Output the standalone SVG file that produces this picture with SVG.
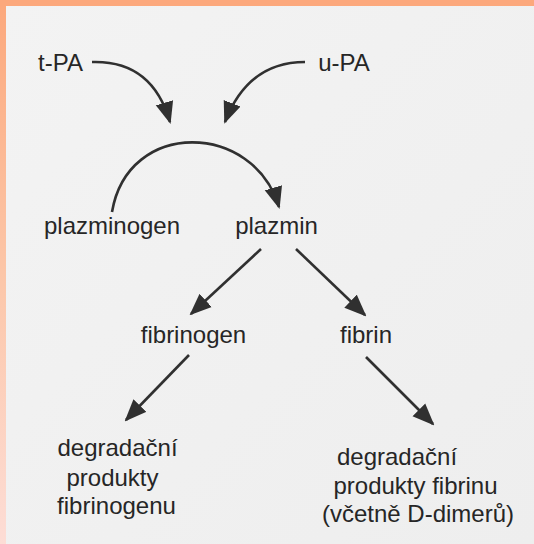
<svg xmlns="http://www.w3.org/2000/svg" width="534" height="544" viewBox="0 0 534 544">
  <style>
    .lbl { font-family: "Liberation Sans", Arial, sans-serif; font-size: 24px; fill: #262626; text-anchor: middle; }
    .edge { fill: none; stroke: #303030; stroke-width: 2.6; marker-end: url(#ah); }
  </style>
  <defs>
    <marker id="ah" markerUnits="userSpaceOnUse" markerWidth="22" markerHeight="19" refX="20" refY="9.5" orient="auto">
      <path d="M0,0.5 L22,9.5 L0,18.5 z" fill="#303030"/>
    </marker>
    <linearGradient id="lb" x1="0" y1="0" x2="0" y2="1">
      <stop offset="0" stop-color="#FCA87C"/>
      <stop offset="0.5" stop-color="#FCC6A8"/>
      <stop offset="1" stop-color="#FDDDD6"/>
    </linearGradient>
    <linearGradient id="bg" x1="0" y1="0" x2="1" y2="1">
      <stop offset="0" stop-color="#F3F3F3"/>
      <stop offset="1" stop-color="#EEEEEE"/>
    </linearGradient>
  </defs>

  <rect x="0" y="0" width="534" height="544" fill="url(#bg)"/>
  <rect x="0" y="0" width="6" height="544" fill="url(#lb)"/>
  <rect x="0" y="0" width="534" height="6" fill="#FCA87C"/>

  <g id="connectors">
    <path class="edge" d="M92 62 Q152 60 170 122"/>
    <path class="edge" d="M305 62 Q248 62 225 122"/>
    <path class="edge" d="M112 212 C128 118, 254 122, 279 207"/>
    <path class="edge" d="M261 249 L191 314"/>
    <path class="edge" d="M296 249 L365 315"/>
    <path class="edge" d="M189 355 L126 420"/>
    <path class="edge" d="M366 357 L433 424"/>
  </g>

  <g id="tPA"><text class="lbl" x="60.5" y="71">t-PA</text></g>
  <g id="uPA"><text class="lbl" x="344" y="71">u-PA</text></g>
  <g id="plazminogen"><text class="lbl" x="112" y="234">plazminogen</text></g>
  <g id="plazmin"><text class="lbl" x="276.5" y="234">plazmin</text></g>
  <g id="fibrinogen"><text class="lbl" x="193.5" y="343">fibrinogen</text></g>
  <g id="fibrin"><text class="lbl" x="366" y="343">fibrin</text></g>
  <g id="dp-fibrinogenu">
    <text class="lbl" x="117.5" y="456">degradační</text>
    <text class="lbl" x="112.5" y="486">produkty</text>
    <text class="lbl" x="116.5" y="514">fibrinogenu</text>
  </g>
  <g id="dp-fibrinu">
    <text class="lbl" x="397" y="465">degradační</text>
    <text class="lbl" x="415.5" y="494">produkty fibrinu</text>
    <text class="lbl" x="418" y="522">(včetně D-dimerů)</text>
  </g>
</svg>
